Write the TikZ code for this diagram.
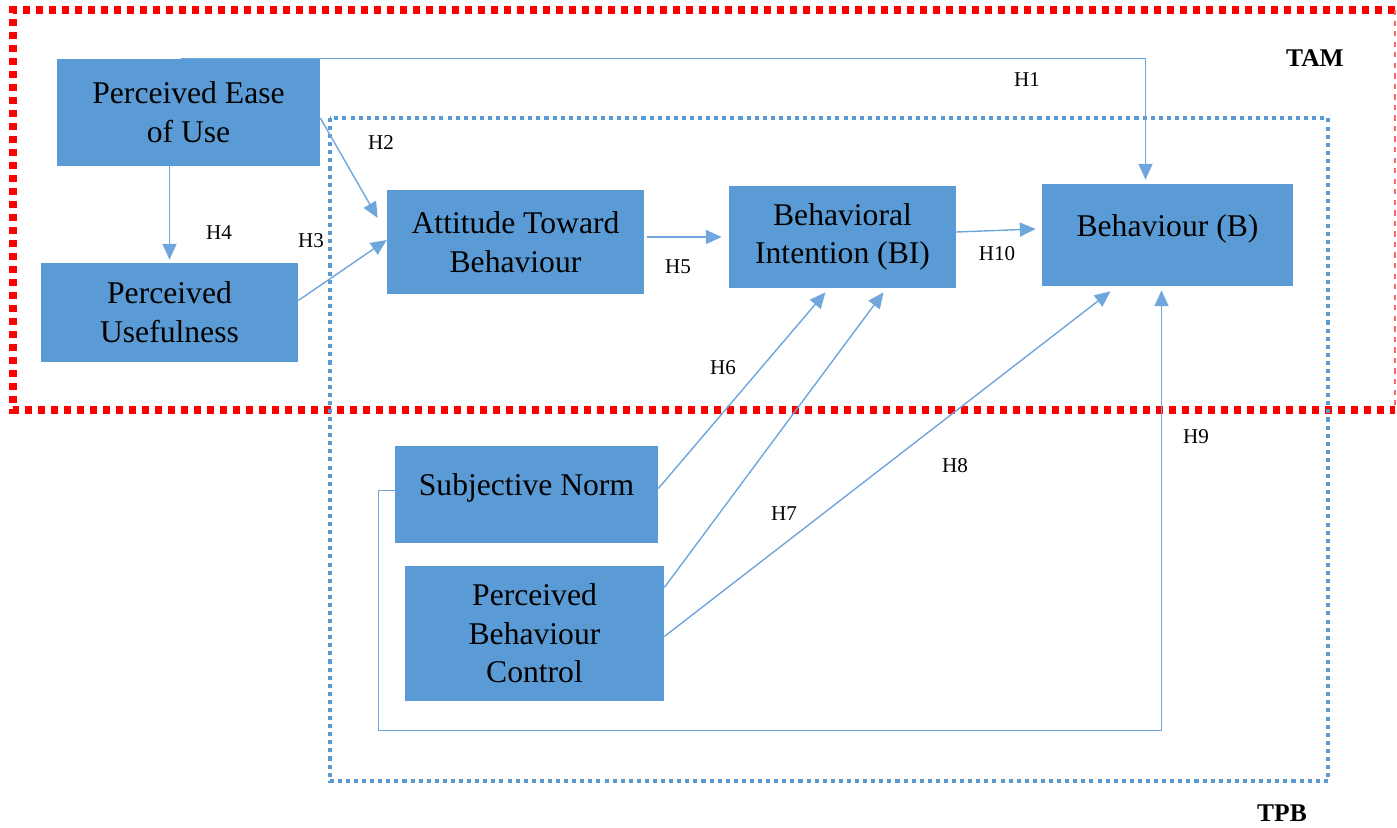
\documentclass[tikz,border=0pt]{standalone}
\usepackage{fontspec}
\setmainfont{Liberation Serif}
\usetikzlibrary{arrows.meta,calc}
\definecolor{boxblue}{HTML}{5B9BD5}
\definecolor{lineblue}{HTML}{6FA6DB}
\tikzset{
  varbox/.style={fill=boxblue, draw=none, align=center, inner sep=0pt, font=\fontsize{18}{22}\selectfont},
  arr/.style={lineblue, line width=0.8pt, -{Triangle[length=9pt,width=8pt]}},
  hlabel/.style={font=\fontsize{12}{14}\selectfont},
  modelname/.style={font=\fontsize{14.5}{16}\selectfont\bfseries},
}
\begin{document}
\begin{tikzpicture}[x=0.02cm,y=-0.02cm]
        \useasboundingbox (0,0) rectangle (1397,828);
        %Khung TAM
            \draw[red,line width=4pt,dash pattern=on 4pt off 3.4pt] (1395,10) -- (13,10) -- (13,410) -- (1395,410);
            \draw[red!60,dashed,line width=0.6pt] (1395,10) -- (1395,410);
        %Khung TPB
            \draw[boxblue,line width=2.2pt,dash pattern=on 2.3pt off 2.3pt] (330,118) rectangle (1328,781);
        %Bien
        \node[varbox,minimum width=5.26cm,minimum height=2.14cm] (peu) at (188.5,112.5) {Perceived Ease\\of Use};
        \node[varbox,minimum width=5.14cm,minimum height=1.98cm] (pu) at (169.5,312.5) {Perceived\\Usefulness};
        \node[varbox,minimum width=5.14cm,minimum height=2.08cm] (atb) at (515.5,242) {Attitude Toward\\Behaviour};
        \node[varbox,minimum width=4.54cm,minimum height=2.04cm] (bi) at (842.5,237) {Behavioral\\Intention (BI)};
        \node[varbox,minimum width=5.02cm,minimum height=2.04cm] (b) at (1167.5,235) {Behaviour (B)\\[-11pt]};
        \node[varbox,minimum width=5.26cm,minimum height=1.94cm] (sn) at (526.5,494.5) {Subjective Norm\\[-11pt]};
        \node[varbox,minimum width=5.18cm,minimum height=2.70cm] (pbc) at (534.5,633.5) {Perceived\\Behaviour\\Control};
        %Gia thuyet
        \draw[arr] ($(peu.north)+(-8,0)$) -| ($(b.north)+(-22,-4)$);
        \draw[arr] ($(peu.east)+(0,5.5)$) -- ($(atb.west)+(-9,-24)$);
        \draw[arr] ($(pu.east)+(0,-12)$) -- ($(atb.west)+(0,-2)$);
        \draw[arr] ($(peu.south)+(-19,0)$) -- ($(pu.north)+(0,-3)$);
        \draw[arr] ($(atb.east)+(3,-5)$) -- ($(bi.west)+(-7,0)$);
        \draw[arr] ($(bi.east)+(0,-5)$) -- ($(b.west)+(-6,-6)$);
        \draw[arr] ($(sn.east)+(0,-6)$) -- ($(bi.south)+(-17,4)$);
        \draw[arr] ($(pbc.east)+(0,-46)$) -- ($(bi.south)+(41,4)$);
        \draw[arr] ($(pbc.east)+(0,3)$) -- ($(b.south)+(-57,5)$);
        \draw[arr] ($(sn.west)+(0,-4)$) -- ++(-16,0) -- ++(0,240) -| ($(b.south)+(-6,4)$);
        %Nhan
        \foreach \t/\x/\y in {H1/1027/80, H2/381/143, H3/311/241, H4/219/233, H5/678/267, H6/723/368, H7/784/514, H8/955/466, H9/1196/437, H10/997/254}
        {\node[hlabel] (lbl\t) at (\x,\y) {\t};}
        \node[modelname] (tam) at (1315,58) {TAM};
        \node[modelname] (tpb) at (1282,813) {TPB};
\end{tikzpicture}
\end{document}
